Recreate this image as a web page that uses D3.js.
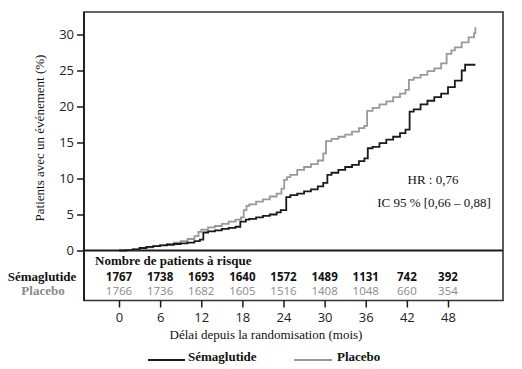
<!DOCTYPE html>
<html><head><meta charset="utf-8">
<script src="https://cdn.jsdelivr.net/npm/d3@7/dist/d3.min.js"></script>
<style>body{margin:0;background:#fff}svg{display:block}</style>
</head><body>
<svg id="c" width="522" height="369"></svg>
<script>
// ---- data ----
const semaMonths = [0,1,2,3,4,5,6,7,8,9,10,11,11.8,12.3,13,14,15,16,17,17.7,18.5,19,20,21,22,23,23.6,24.4,25,26,27,28,29,29.8,30.4,31,32,33,34,35,35.8,36.3,37,38,39,40,41,41.8,42.4,43,44,45,46,47,48,49,50,50.5,52];
const semaPct    = [0,0.05,0.15,0.35,0.5,0.6,0.7,0.8,0.9,1.0,1.1,1.3,1.5,2.5,2.65,2.8,3.0,3.15,3.3,4.0,4.3,4.4,4.6,4.8,5.0,5.3,5.6,7.4,7.7,7.9,8.2,8.5,8.9,9.4,10.5,10.8,11.2,11.6,11.9,12.4,12.8,14.2,14.4,14.9,15.4,15.8,16.3,16.8,19.3,19.6,20.3,20.8,21.3,21.8,22.7,23.6,25.0,25.8,25.8];
const placMonths = [0,1,2,3,4,5,6,7,8,9,10,11,11.6,12,13,14,15,16,17,17.8,18.2,18.6,19,20,21,22,23,23.7,24.1,24.5,25,26,27,28,29,29.8,30.2,31,32,33,34,35,35.8,36.2,37,38,39,40,41,41.8,42.3,43,44,45,46,47,47.8,48.5,49,50,51,51.8,52];
const placPct    = [0,0.05,0.15,0.3,0.45,0.6,0.75,0.9,1.1,1.3,1.6,2.0,2.6,2.9,3.2,3.4,3.7,4.0,4.3,4.6,5.6,6.2,6.4,6.8,7.1,7.5,7.9,8.6,9.8,10.2,10.5,11.2,11.6,12.0,12.5,13.5,15.2,15.5,15.8,16.1,16.5,17.0,17.3,19.4,19.8,20.3,20.7,21.3,21.8,22.3,23.7,24.0,24.4,24.9,25.3,26.0,27.3,27.8,28.2,28.9,29.6,30.2,31.0];
const xTicks = [0,6,12,18,24,30,36,42,48];
const yTicks = [0,5,10,15,20,25,30];
const riskSema = [1767,1738,1693,1640,1572,1489,1131,742,392];
const riskPlac = [1766,1736,1682,1605,1516,1408,1048,660,354];
const groups = ["Sémaglutide","Placebo"];

// ---- layout ----
const L=84, R=503, T=12, Y0=250.5, TB=300.5;
const svg = d3.select("#c");
const x = d3.scaleLinear().domain([(L-119)/6.854,(R-119)/6.854]).range([L,R]);
const y = d3.scaleLinear().domain([0,30]).range([Y0,34.5]);
const black="#1a1a1a", grey="#999999", greyTxt="#8a8a8a";
const serif="'Liberation Serif','Times New Roman',serif";
const sans="'Open Sans','Noto Sans',sans-serif";

// frame
svg.append("path").attr("d",`M${L},${Y0}V${T}H${R}V${TB}H${L}V${Y0}`)
  .attr("fill","none").attr("stroke","#333").attr("stroke-width",1.6);
svg.append("line").attr("x1",L).attr("x2",R).attr("y1",Y0).attr("y2",Y0)
  .attr("stroke",black).attr("stroke-width",2.2);
svg.append("line").attr("x1",L).attr("x2",L).attr("y1",T).attr("y2",TB)
  .attr("stroke",black).attr("stroke-width",1.8);

// y axis
const ya = svg.append("g").attr("transform",`translate(${L},0)`)
  .call(d3.axisLeft(y).tickValues(yTicks).tickSize(7).tickPadding(3));
ya.select(".domain").remove();
ya.selectAll("line").attr("stroke",black).attr("stroke-width",1.5);
ya.selectAll("text").attr("font-family",sans).attr("font-size",13).attr("fill","#222");

// x axis
const xa = svg.append("g").attr("transform",`translate(0,${TB})`)
  .call(d3.axisBottom(x).tickValues(xTicks).tickSize(7).tickPadding(5));
xa.select(".domain").remove();
xa.selectAll("line").attr("stroke",black).attr("stroke-width",1.5);
xa.selectAll("text").attr("font-family",sans).attr("font-size",13).attr("fill","#222");

// curves
const line = d3.line().x(d=>x(d[0])).y(d=>y(d[1])).curve(d3.curveStepAfter);
svg.append("path").datum(placMonths.map((m,i)=>[m,placPct[i]]))
  .attr("d",line).attr("fill","none").attr("stroke",grey).attr("stroke-width",1.8);
svg.append("path").datum(semaMonths.map((m,i)=>[m,semaPct[i]]))
  .attr("d",line).attr("fill","none").attr("stroke",black).attr("stroke-width",1.8);

// axis titles
svg.append("text").attr("transform","translate(44,138) rotate(-90)")
  .attr("text-anchor","middle").attr("font-family",serif).attr("font-size",13)
  .attr("fill","#111").text("Patients avec un événement (%)");
svg.append("text").attr("x",266).attr("y",339).attr("text-anchor","middle")
  .attr("font-family",serif).attr("font-size",13).attr("fill","#111")
  .text("Délai depuis la randomisation (mois)");

// HR
svg.append("text").attr("x",433).attr("y",184).attr("text-anchor","middle")
  .attr("font-family",serif).attr("font-size",13).attr("fill","#111").text("HR : 0,76");
svg.append("text").attr("x",434).attr("y",207).attr("text-anchor","middle")
  .attr("font-family",serif).attr("font-size",13).attr("fill","#111").text("IC 95 % [0,66 – 0,88]");

// risk table
svg.append("text").attr("x",95).attr("y",265).attr("font-family",serif)
  .attr("font-size",13).attr("font-weight","bold").attr("fill","#111").text("Nombre de patients à risque");
svg.selectAll(".rs").data(riskSema).join("text").attr("x",(d,i)=>x(xTicks[i])).attr("y",281)
  .attr("text-anchor","middle").attr("font-family",sans).attr("font-size",11.5)
  .attr("font-weight","bold").attr("fill","#111").text(d=>d);
svg.selectAll(".rp").data(riskPlac).join("text").attr("x",(d,i)=>x(xTicks[i])).attr("y",295)
  .attr("text-anchor","middle").attr("font-family",sans).attr("font-size",11.5)
  .attr("fill",greyTxt).text(d=>d);
svg.append("text").attr("x",42).attr("y",281).attr("text-anchor","middle").attr("font-family",serif)
  .attr("font-size",13).attr("font-weight","bold").attr("fill","#111").text(groups[0]);
svg.append("text").attr("x",43).attr("y",295).attr("text-anchor","middle").attr("font-family",serif)
  .attr("font-size",13).attr("font-weight","bold").attr("fill",greyTxt).text(groups[1]);

// legend
const leg=[{x1:148,x2:185,tx:188,c:black,t:groups[0]},{x1:294,x2:332,tx:337,c:grey,t:groups[1]}];
leg.forEach(l=>{
  svg.append("line").attr("x1",l.x1).attr("x2",l.x2).attr("y1",360).attr("y2",360)
    .attr("stroke",l.c).attr("stroke-width",1.8);
  svg.append("text").attr("x",l.tx).attr("y",361).attr("font-family",serif).attr("font-size",13)
    .attr("font-weight","bold").attr("fill","#111").text(l.t);
});
</script>
</body></html>
